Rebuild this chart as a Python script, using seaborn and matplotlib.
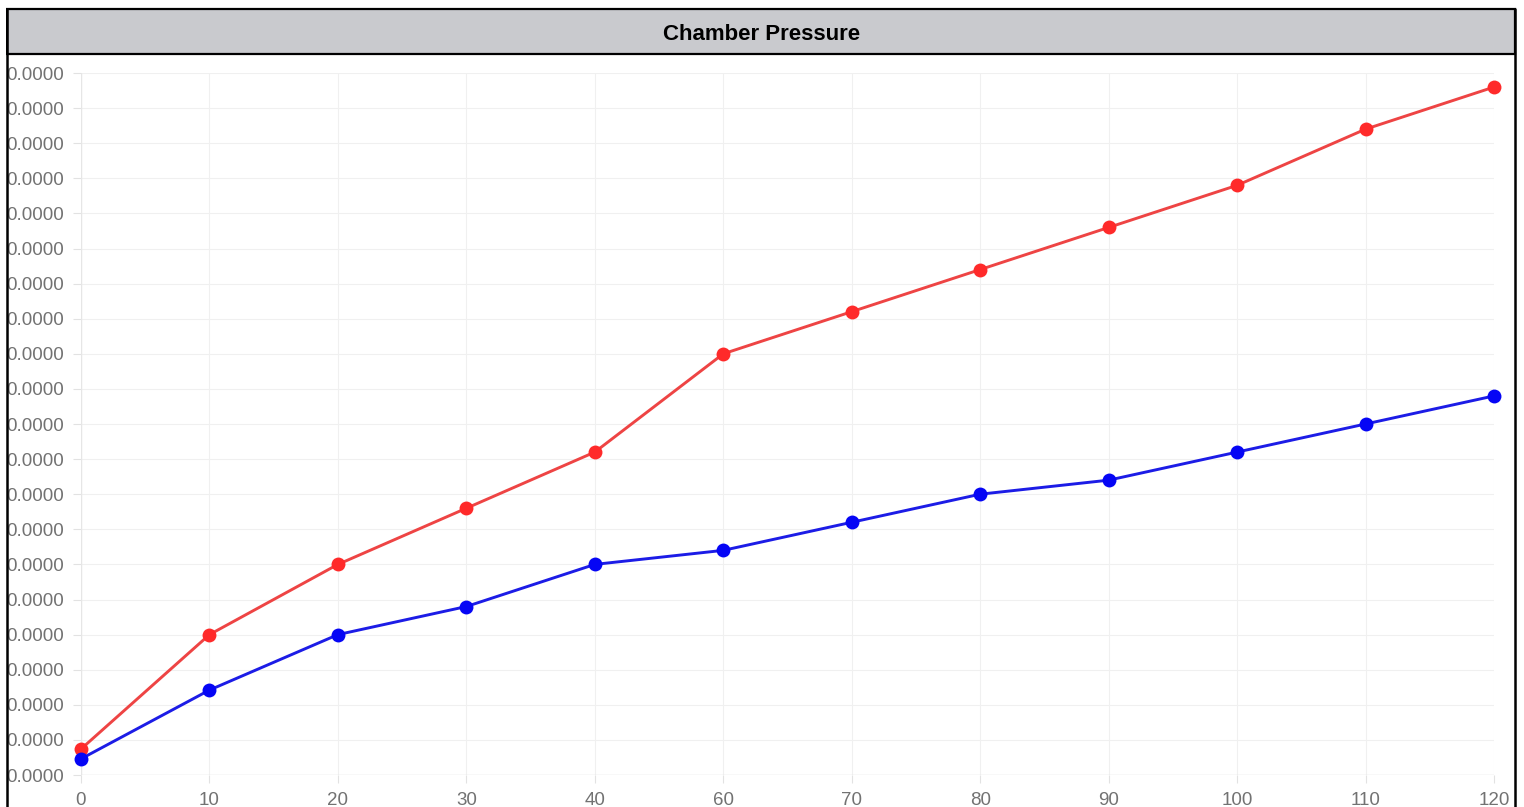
import pandas as pd
import matplotlib
matplotlib.use("Agg")
import matplotlib.pyplot as plt
import seaborn as sns
from matplotlib.patches import Rectangle
from matplotlib.ticker import FormatStrFormatter, MultipleLocator

# time labels (x is categorical: 50 is missing in the source)
times = ["0", "10", "20", "30", "40", "60", "70", "80", "90", "100", "110", "120"]
# pressures, in units of 1e-6
red_pressure = [1.48, 8.0, 12.0, 15.2, 18.4, 24.0, 26.4, 28.8, 31.2, 33.6, 36.8, 39.2]
blue_pressure = [0.92, 4.84, 8.0, 9.6, 12.0, 12.8, 14.4, 16.0, 16.8, 18.4, 20.0, 21.6]

df = pd.concat([
    pd.DataFrame({"time": times, "pressure": [v * 1e-6 for v in red_pressure], "series": "red"}),
    pd.DataFrame({"time": times, "pressure": [v * 1e-6 for v in blue_pressure], "series": "blue"}),
])

sns.set_theme(style="white")
plt.rcParams["font.family"] = ["Liberation Sans", "DejaVu Sans"]

W, H = 1524, 807
fig = plt.figure(figsize=(W / 100, H / 100), dpi=100)
ax = fig.add_axes([81 / W, 1 - 775 / H, (1494 - 81) / W, (775 - 73) / H])

line_colors = {"red": "#ee4444", "blue": "#1c1ce6"}
dot_colors = {"red": "#ff2a2a", "blue": "#0505f5"}

for name in ["red", "blue"]:
    d = df[df["series"] == name]
    sns.lineplot(data=d, x="time", y="pressure", color=line_colors[name],
                 linewidth=2.1, ax=ax, sort=False, zorder=3, clip_on=False)
    sns.scatterplot(data=d, x="time", y="pressure", color=dot_colors[name],
                    s=100, linewidth=0, ax=ax, zorder=4, clip_on=False)

ax.set_xlim(0, len(times) - 1)
ax.set_ylim(0, 40e-6)
ax.yaxis.set_major_locator(MultipleLocator(2e-6))
ax.yaxis.set_major_formatter(FormatStrFormatter("%.4f"))
ax.set_xlabel("")
ax.set_ylabel("")

ax.grid(True, color="#f0f0f0", linewidth=0.8)
for s in ax.spines.values():
    s.set_visible(False)
ax.axhline(0, color="#e2e2e2", linewidth=1, zorder=1)
ax.axvline(0, color="#e6e6e6", linewidth=1, zorder=1)
ax.tick_params(axis="both", which="both", length=6, width=0.8, color="#e2e2e2",
               labelcolor="#727272", labelsize=13.5, pad=6,
               left=True, bottom=True)

# frame and title bar
fig.patches.append(Rectangle((7 / W, 1 - 54 / H), (1515 - 7) / W, 45 / H,
                             transform=fig.transFigure, facecolor="#c9cace",
                             edgecolor="black", linewidth=1.6, zorder=5))
fig.patches.append(Rectangle((0, 0), 6 / W, 1, transform=fig.transFigure,
                             facecolor="white", edgecolor="none", zorder=9))
fig.lines.append(plt.Line2D([7 / W, 7 / W], [0, 1 - 9 / H], transform=fig.transFigure,
                            color="black", linewidth=1.8, zorder=10))
fig.lines.append(plt.Line2D([1515 / W, 1515 / W], [0, 1 - 9 / H], transform=fig.transFigure,
                            color="black", linewidth=1.8, zorder=10))
fig.text(762 / W, 1 - 32 / H, "Chamber Pressure", ha="center", va="center_baseline",
         fontsize=16, fontweight="bold", color="black", zorder=11)

fig.savefig("out.png", dpi=100, facecolor="white")
